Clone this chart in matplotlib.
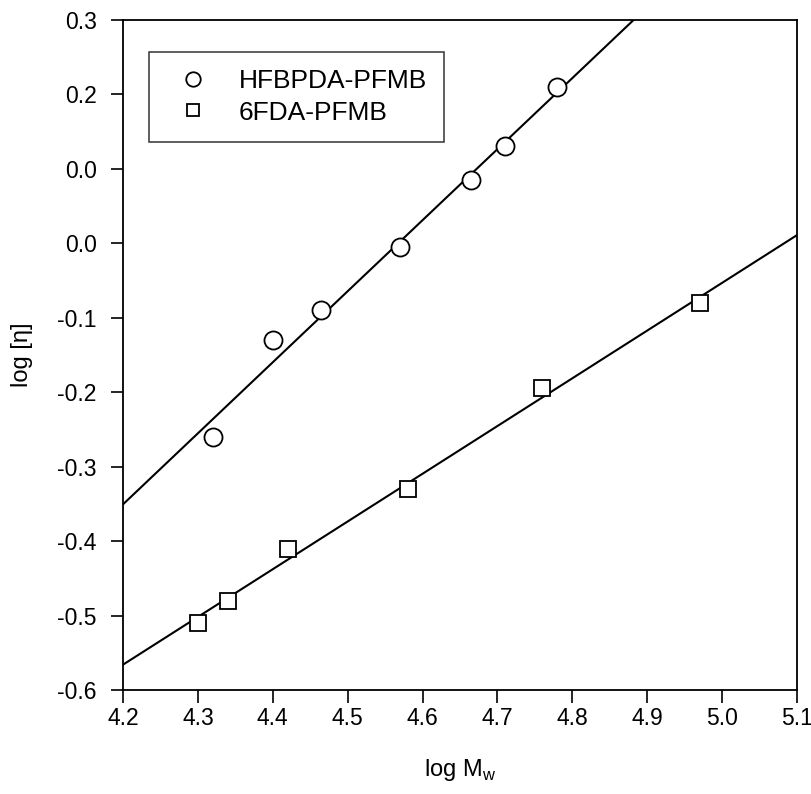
import numpy as np
import matplotlib
matplotlib.use("Agg")
from matplotlib import pyplot as plt

plt.rcParams['font.family'] = ['Liberation Sans', 'DejaVu Sans']

# HFBPDA-PFMB (circles)
hfb_logm = [4.32, 4.40, 4.465, 4.57, 4.665, 4.71, 4.78]
hfb_logeta = [-0.26, -0.13, -0.09, -0.005, 0.085, 0.13, 0.21]

# 6FDA-PFMB (squares)
fda_logm = [4.30, 4.34, 4.42, 4.58, 4.76, 4.97]
fda_logeta = [-0.51, -0.48, -0.41, -0.33, -0.195, -0.08]

xticks = [4.2, 4.3, 4.4, 4.5, 4.6, 4.7, 4.8, 4.9, 5.0, 5.1]
yticks = [0.3, 0.2, 0.1, 0.0, -0.1, -0.2, -0.3, -0.4, -0.5, -0.6]
# labels as printed in the original figure
ytick_labels = ['0.3', '0.2', '0.0', '0.0', '-0.1', '-0.2', '-0.3', '-0.4', '-0.5', '-0.6']

fig = plt.figure(figsize=(8.12, 7.94), dpi=100)
ax = fig.add_axes([0.1515, 0.131, 0.83, 0.844])

xline = np.array([4.2, 5.1])
for xs, ys, mk, ms, lab in [(hfb_logm, hfb_logeta, 'o', 13, 'HFBPDA-PFMB'),
                            (fda_logm, fda_logeta, 's', 11.5, '6FDA-PFMB')]:
    # linear fit drawn across the whole axis
    p = np.polyfit(xs, ys, 1)
    ax.plot(xline, np.polyval(p, xline), color='black', lw=1.5, zorder=2)
    ax.plot(xs, ys, linestyle='none', marker=mk, ms=ms, mfc='white',
            mec='black', mew=1.3, label=lab, zorder=3)

ax.set_xlim(4.2, 5.1)
ax.set_ylim(-0.6, 0.3)
ax.set_xticks(xticks)
ax.set_xticklabels(['%.1f' % v for v in xticks])
ax.set_yticks(yticks)
ax.set_yticklabels(ytick_labels)
ax.tick_params(direction='out', length=9, width=1.2, labelsize=16.5)
ax.tick_params(axis='y', pad=10)
ax.tick_params(axis='x', pad=3)
for s in ax.spines.values():
    s.set_linewidth(1.3)

ax.set_xlabel('log M$_\\mathregular{w}$', fontsize=17)
ax.xaxis.set_label_coords(0.5, -0.1)
ax.xaxis.label.set_va('top')
fig.text(22 / 812, 1 - 355 / 794, 'log [\u03b7]', fontsize=17, rotation=90,
         ha='center', va='center')

leg = ax.legend(loc='upper left', bbox_to_anchor=(0.0386, 0.952), fontsize=19,
                frameon=True, fancybox=False, edgecolor='black', markerscale=0.8,
                handletextpad=0.75, borderpad=0.65, handlelength=2.0,
                labelspacing=0.28, borderaxespad=0)
leg.get_frame().set_linewidth(1.1)

fig.savefig('out.png', dpi=100)
